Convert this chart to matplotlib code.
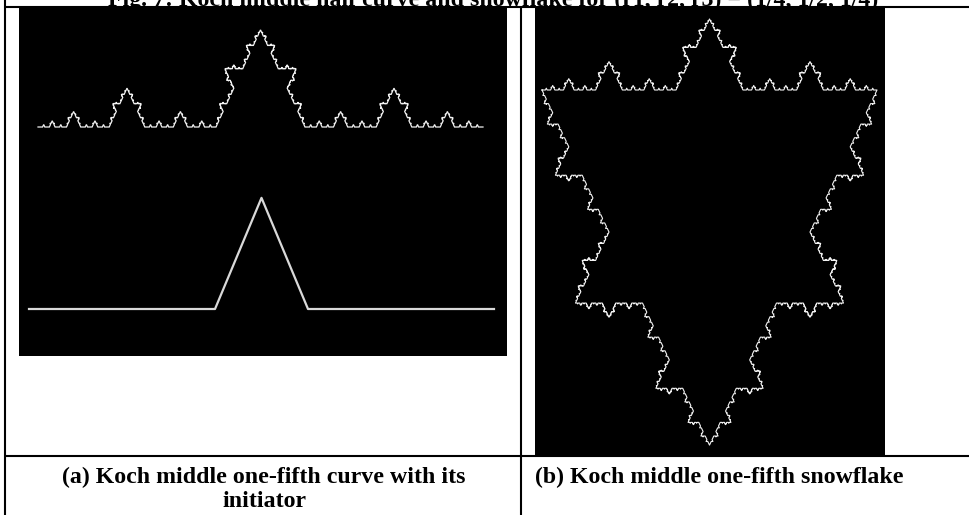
import numpy as np
import matplotlib
matplotlib.use("Agg")
import matplotlib.pyplot as plt

# ---- data ----
ratios = [2 / 5, 1 / 5, 2 / 5]          # generator ratios (r1, r2, r3)
bump_angle_deg = 60                       # equilateral bump
curve_levels = 5
generator_levels = 1
snowflake_levels = 5

title_text = "Fig. 7: Koch middle half curve and snowflake for (r1, r2, r3) = (1/4, 1/2, 1/4)"
caption_a = ["(a) Koch middle one-fifth curve with its", "initiator"]
caption_b = "(b) Koch middle one-fifth snowflake"

# curve placement inside panel (a): start x, start y, length, vertical stretch
curve_start = [19, 229]
curve_length = 445
curve_stretch = 1.26
gen_start = [10, 47]
gen_length = 465
gen_stretch = 1.38
# snowflake placement in panel (b): top-left vertex, side length, vertical stretch
flake_start = [7, 366]
flake_length = 335
flake_stretch = 1.224

W, H = 969, 515


def koch(p0, p1, level):
    p0 = np.asarray(p0, float)
    p1 = np.asarray(p1, float)
    if level == 0:
        return [p0]
    d = p1 - p0
    a = p0 + ratios[0] * d
    b = p0 + (ratios[0] + ratios[1]) * d
    t = np.radians(bump_angle_deg)
    rot = np.array([[np.cos(t), -np.sin(t)], [np.sin(t), np.cos(t)]])
    apex = a + rot @ (b - a)
    pts = []
    for q0, q1 in ((p0, a), (a, apex), (apex, b), (b, p1)):
        pts.extend(koch(q0, q1, level - 1))
    return pts


def unit_curve(level):
    pts = koch((0, 0), (1, 0), level) + [np.array([1.0, 0.0])]
    return np.array(pts)


def unit_flake(level):
    v = [np.array([0.0, 0.0]), np.array([1.0, 0.0]),
         np.array([0.5, -np.sqrt(3) / 2])]
    pts = []
    for i in range(3):
        pts.extend(koch(v[i], v[(i + 1) % 3], level))
    pts.append(v[0])
    return np.array(pts)


def place(pts, start, length, stretch):
    x = start[0] + pts[:, 0] * length
    y = start[1] + pts[:, 1] * length * stretch
    return x, y


def px_rect(x0, y0, x1, y1):
    return [x0 / W, 1 - y1 / H, (x1 - x0) / W, (y1 - y0) / H]


fig = plt.figure(figsize=(W / 100, H / 100), dpi=100)
fig.patch.set_facecolor("white")

# panel (a)
axa = fig.add_axes(px_rect(19, 8, 507, 356))
axa.set_facecolor("black")
axa.set_xlim(0, 488)
axa.set_ylim(0, 348)
for s in axa.spines.values():
    s.set_visible(False)
axa.set_xticks([])
axa.set_yticks([])
x, y = place(unit_curve(curve_levels), curve_start, curve_length, curve_stretch)
axa.plot(x, y, color="#f2f2f2", lw=0.9, solid_joinstyle="miter")
x, y = place(unit_curve(generator_levels), gen_start, gen_length, gen_stretch)
axa.plot(x, y, color="#d9d9d9", lw=1.6)

# panel (b)
axb = fig.add_axes(px_rect(535, 8, 885, 456))
axb.set_facecolor("black")
axb.set_xlim(0, 350)
axb.set_ylim(0, 448)
for s in axb.spines.values():
    s.set_visible(False)
axb.set_xticks([])
axb.set_yticks([])
x, y = place(unit_flake(snowflake_levels), flake_start, flake_length, flake_stretch)
axb.plot(x, y, color="#f2f2f2", lw=0.8)

# overlay in pixel coordinates for table lines and texts
ov = fig.add_axes([0, 0, 1, 1], zorder=10)
ov.set_xlim(0, W)
ov.set_ylim(H, 0)
ov.set_axis_off()
lk = dict(color="black", lw=1.5, solid_capstyle="butt")
ov.plot([4, W], [7, 7], **lk)
ov.plot([4, W], [456, 456], **lk)
ov.plot([5, 5], [0, H], **lk)
ov.plot([521, 521], [7, H], **lk)

font = dict(family=["Liberation Serif", "DejaVu Serif"], weight="bold", color="black")
fig.canvas.draw()
renderer = fig.canvas.get_renderer()


def fit_text(x, y, s, target_w, ha, va, base=14):
    t = ov.text(x, y, s, ha=ha, va=va, fontsize=base, **font)
    w = t.get_window_extent(renderer).width
    t.set_fontsize(base * target_w / w)
    return t


tt = fit_text(493, 6, title_text, 773, "center", "baseline")
ta = fit_text(264, 483, caption_a[0], 404, "center", "baseline")
ov.text(264, 507, caption_a[1], ha="center", va="baseline",
        fontsize=ta.get_fontsize(), **font)
ov.text(535, 483, caption_b, ha="left", va="baseline",
        fontsize=ta.get_fontsize(), **font)

fig.savefig("out.png", dpi=100)
